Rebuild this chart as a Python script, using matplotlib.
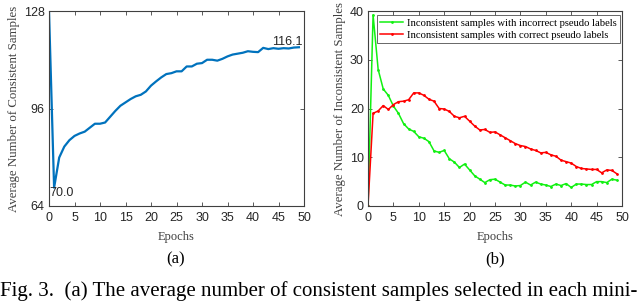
import matplotlib
matplotlib.use("Agg")
import matplotlib.pyplot as plt
import numpy as np

epochs = list(range(50))
consistent = [128, 70.0, 79.9, 83.5, 85.6, 87.0, 87.8, 88.4, 89.7, 91.0,
              91.0, 91.4, 93.3, 95.2, 96.9, 98.0, 99.1, 100.0, 100.5, 101.6,
              103.5, 104.9, 106.2, 107.3, 107.6, 108.2, 108.2, 109.8, 109.8, 110.7,
              110.9, 112.0, 112.0, 111.7, 112.3, 113.1, 113.7, 114.0, 114.3, 114.8,
              114.6, 114.5, 115.9, 115.5, 115.8, 115.6, 115.8, 115.7, 116.0, 116.1]
incorrect = [0, 39.2, 28.0, 24.0, 22.7, 20.5, 19.0, 16.9, 15.8, 15.3,
             14.2, 13.9, 13.2, 11.3, 11.0, 11.4, 9.7, 9.0, 7.9, 8.6,
             7.4, 6.2, 5.5, 4.8, 5.4, 5.5, 4.9, 4.3, 4.3, 4.1,
             4.2, 4.9, 4.3, 4.9, 4.5, 4.3, 4.0, 4.5, 4.2, 4.6,
             3.8, 4.5, 4.5, 4.4, 4.4, 5.0, 5.0, 4.8, 5.5, 5.3]
correct = [0, 19.0, 19.5, 20.6, 19.8, 20.8, 21.4, 21.5, 21.8, 23.2,
           23.2, 22.7, 21.9, 21.5, 20.0, 19.9, 19.4, 18.4, 18.1, 18.4,
           17.4, 16.4, 15.6, 15.7, 15.1, 15.2, 14.6, 14.0, 13.4, 12.8,
           12.4, 12.2, 11.7, 11.4, 10.9, 11.0, 10.5, 10.2, 9.4, 9.1,
           8.8, 8.1, 7.7, 7.6, 7.5, 7.5, 6.8, 7.4, 7.3, 6.6]
xticks = list(range(0, 51, 5))
left_yticks = [64, 96, 128]
right_yticks = [0, 10, 20, 30, 40]
legend_labels = ["Inconsistent samples with incorrect pseudo labels",
                 "Inconsistent samples with correct pseudo labels"]

serif = ["Liberation Serif", "DejaVu Serif"]
sans = ["Liberation Sans", "DejaVu Sans"]
axcol = "#404040"

fig = plt.figure(figsize=(6.4, 3.01), dpi=100)
ax1 = fig.add_axes([49/640, 1-206/301, 255/640, 195/301])
ax2 = fig.add_axes([368/640, 1-206/301, 254/640, 195/301])

def style(ax):
    for s in ax.spines.values():
        s.set_color(axcol)
        s.set_linewidth(0.8)
    ax.tick_params(direction="in", top=True, right=True, length=3, width=0.6,
                   colors=axcol, labelsize=9)
    ax.tick_params(axis="x", pad=4)
    ax.tick_params(axis="y", pad=3)
    for lab in ax.get_xticklabels() + ax.get_yticklabels():
        lab.set_fontfamily(sans)
        lab.set_color("#262626")

ax1.plot(epochs, consistent, color=(0, 0.447, 0.741), lw=1.6)
ax1.set_xlim(0, 50)
ax1.set_ylim(64, 128)
ax1.set_xticks(xticks)
ax1.set_yticks(left_yticks)
style(ax1)
ax1.annotate(f"{consistent[1]:.1f}", (epochs[1], consistent[1]), xytext=(7, -5.5),
             textcoords="offset pixels", ha="center", va="center",
             fontsize=9, family=sans, color="#262626")
ax1.annotate(f"{consistent[-1]:.1f}", (epochs[-1], consistent[-1]), xytext=(4, 5),
             textcoords="offset pixels", ha="right", va="center",
             fontsize=9, family=sans, color="#262626")
ax1.set_xlabel("Epochs", family=serif, fontsize=9, color="#404040", labelpad=5.5)
ax1.set_ylabel("Average Number of Consistent Samples", family=serif, fontsize=9.3,
               color="#404040", labelpad=3)

ax2.plot(epochs, incorrect, color="#11f011", lw=1.1, marker=".", markersize=2,
         label=legend_labels[0])
ax2.plot(epochs, correct, color="#ff0000", lw=1.1, marker=".", markersize=2,
         label=legend_labels[1])
ax2.set_xlim(0, 50)
ax2.set_ylim(0, 40)
ax2.set_xticks(xticks)
ax2.set_yticks(right_yticks)
style(ax2)
ax2.set_xlabel("Epochs", family=serif, fontsize=9, color="#404040", labelpad=5.5)
ax2.set_ylabel("Average Number of Inconsistent Samples", family=serif, fontsize=9.3,
               color="#404040", labelpad=3)
leg = ax2.legend(loc="upper right", bbox_to_anchor=(0.995, 0.985), borderaxespad=0.1,
                 prop={"family": serif, "size": 7.7}, frameon=True, fancybox=False,
                 handlelength=2.2, handletextpad=0.3, borderpad=0.3, labelspacing=0.25)
leg.get_frame().set_edgecolor(axcol)
leg.get_frame().set_linewidth(0.7)

fig.text(176/640, 1-259/301, "(a)", ha="center", va="center", family=serif, fontsize=12)
fig.text(495/640, 1-259/301, "(b)", ha="center", va="center", family=serif, fontsize=12)
fig.text(0.0, 1-296/301,
         "Fig. 3.  (a) The average number of consistent samples selected in each mini-",
         ha="left", va="baseline", family=serif, fontsize=15)

fig.savefig("out.png", dpi=100)
